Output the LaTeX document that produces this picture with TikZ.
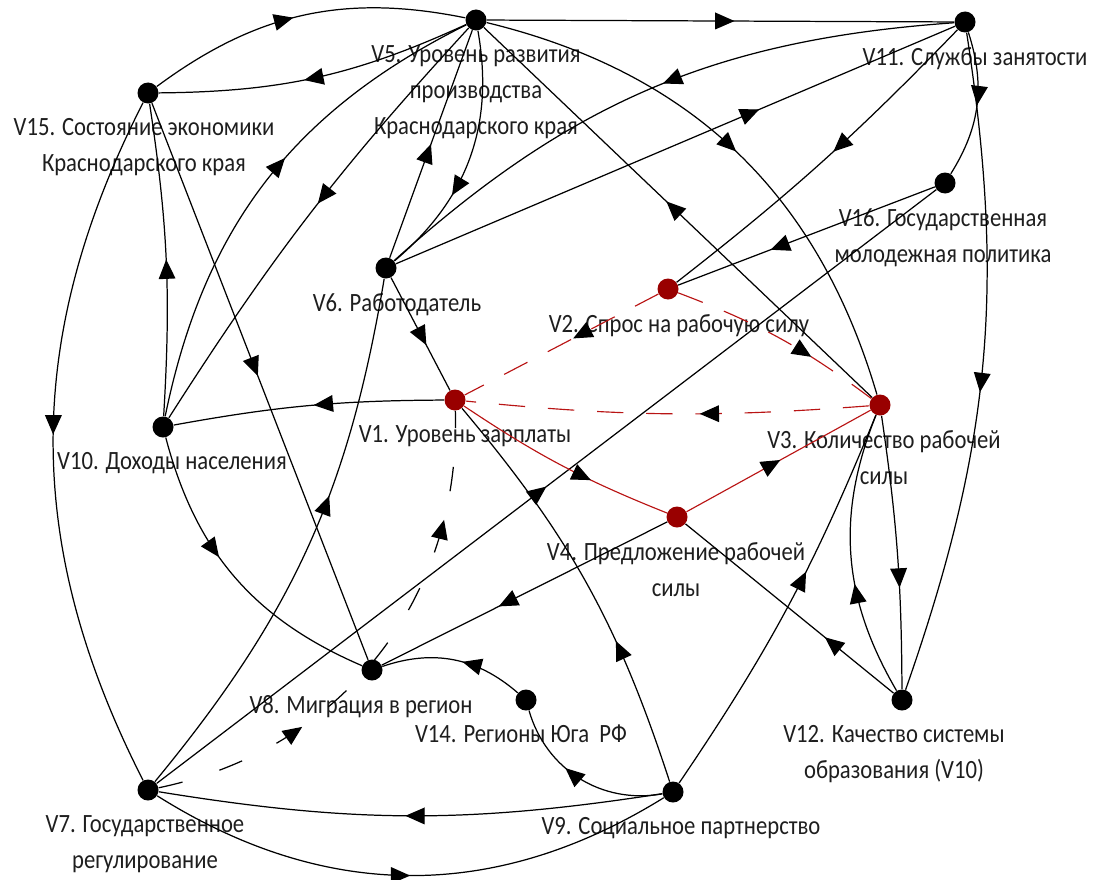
\documentclass[tikz,border=0pt]{standalone}
\usepackage{fontspec}
\newfontfamily\lblfont{Carlito}[FakeStretch=0.86]
\usetikzlibrary{positioning,arrows.meta,decorations.markings}
\definecolor{dotred}{RGB}{153,0,0}
\definecolor{lnred}{RGB}{185,20,20}
\definecolor{txtgray}{RGB}{30,30,30}
\begin{document}
\begin{tikzpicture}[
    dot/.style={circle,fill=black,inner sep=0pt,minimum size=0.42cm},
    reddot/.style={dot,fill=dotred},
    lbl/.style={align=center,inner sep=0pt,text=txtgray,font=\lblfont\fontsize{15}{20.5}\selectfont},
    edge/.style={draw=black,line width=0.7pt},
    redge/.style={draw=lnred,line width=0.65pt},
    rdash/.style={redge,dash pattern=on 15pt off 13pt},
    kdash/.style={edge,dash pattern=on 14pt off 22pt},
    midarrow/.style={postaction={decorate,decoration={markings,
        mark=at position #1 with {\arrow[black,solid]{Triangle[length=11pt,width=9.5pt]}}}}},
    twoarrows/.style 2 args={postaction={decorate,decoration={markings,
        mark=at position #1 with {\arrow[black,solid]{Triangle[length=11pt,width=9.5pt]}},
        mark=at position #2 with {\arrow[black,solid]{Triangle[length=11pt,width=9.5pt]}}}}}
]
    % Picture size
    \useasboundingbox (0,0) rectangle (21.86,-17.58);

    % Factors
    \node[dot] (v5) at (9.52,-0.40) {};
    \node[dot] (v11) at (19.30,-0.44) {};
    \node[dot] (v15) at (2.96,-1.86) {};
    \node[dot] (v16) at (18.90,-3.66) {};
    \node[dot] (v6) at (7.72,-5.36) {};
    \node[reddot] (v2) at (13.36,-5.78) {};
    \node[reddot] (v1) at (9.10,-8.00) {};
    \node[reddot] (v3) at (17.60,-8.10) {};
    \node[dot] (v10) at (3.26,-8.54) {};
    \node[reddot] (v4) at (13.54,-10.34) {};
    \node[dot] (v8) at (7.44,-13.40) {};
    \node[dot] (v14) at (10.52,-14.00) {};
    \node[dot] (v12) at (18.04,-14.00) {};
    \node[dot] (v7) at (2.96,-15.80) {};
    \node[dot] (v9) at (13.46,-15.84) {};

    % Labels under the factors
    \node[lbl, below=0.28cm of v5] (v5t) {V5. Уровень развития\\производства\\Краснодарского края};
    \node[lbl, below=0.28cm of v11, xshift=0.2cm] (v11t) {V11. Службы занятости};
    \node[lbl, below=0.28cm of v15, xshift=-0.08cm] (v15t) {V15. Состояние экономики\\Краснодарского края};
    \node[lbl, below=0.28cm of v16, xshift=-0.04cm] (v16t) {V16. Государственная\\молодежная политика};
    \node[lbl, below=0.28cm of v6, xshift=0.22cm] (v6t) {V6. Работодатель};
    \node[lbl, below=0.28cm of v2, xshift=0.22cm] (v2t) {V2. Спрос на рабочую силу};
    \node[lbl, below=0.28cm of v1, xshift=0.2cm] (v1t) {V1. Уровень зарплаты};
    \node[lbl, below=0.28cm of v3, xshift=0.08cm] (v3t) {V3. Количество рабочей\\силы};
    \node[lbl, below=0.28cm of v10, xshift=0.18cm] (v10t) {V10. Доходы населения};
    \node[lbl, below=0.28cm of v4, xshift=-0.02cm] (v4t) {V4. Предложение рабочей\\силы};
    \node[lbl, below=0.28cm of v8, xshift=-0.22cm] (v8t) {V8. Миграция в регион};
    \node[lbl, below=0.28cm of v14, xshift=-0.1cm] (v14t) {V14. Регионы Юга\ \ РФ};
    \node[lbl, below=0.28cm of v12, xshift=-0.16cm] (v12t) {V12. Качество системы\\образования (V10)};
    \node[lbl, below=0.28cm of v7, xshift=-0.06cm] (v7t) {V7. Государственное\\регулирование};
    \node[lbl, below=0.28cm of v9, xshift=0.16cm] (v9t) {V9. Социальное партнерство};

    % Links around V5 and V11
    \draw[edge, midarrow=0.53] (v5) -- (v11);
    \draw[edge, midarrow=0.47] (v15) to[bend left=24] (v5);
    \draw[edge, midarrow=0.54] (v5) to[bend left=12] (v15);
    \draw[edge, midarrow=0.56] (v10) to[bend left=26] (v5);
    \draw[edge, midarrow=0.47] (v5) to[bend right=5] (v10);
    \draw[edge, midarrow=0.5] (v6) -- (v5);
    \draw[edge, midarrow=0.66] (v5) to[bend left=30] (v6);
    \draw[edge, midarrow=0.5] (v5) to[bend left=30] (v3);
    \draw[edge, midarrow=0.53] (v3) -- (v5);
    \draw[edge, midarrow=0.48] (v11) to[bend right=19] (v6);
    \draw[edge, midarrow=0.65] (v6) -- (v11);
    \draw[edge, midarrow=0.5] (v11) to[bend left=25] (v16);
    \draw[edge, midarrow=0.54] (v11) to[bend left=14] (v12);
    \draw[edge, midarrow=0.46] (v11) to[bend left=4] (v2);
    \draw[edge, midarrow=0.64] (v16) -- (v2);

    % Left side
    \draw[edge, midarrow=0.5] (v10) to[bend right=6] (v15);
    \draw[edge, midarrow=0.49] (v15) -- (v8);
    \draw[edge, midarrow=0.49] (v15) to[bend right=27] (v7);
    \draw[edge, midarrow=0.48] (v1) to[bend right=5] (v10);
    \draw[edge, midarrow=0.6] (v6) -- (v1);
    \draw[edge, midarrow=0.42] (v10) to[bend right=26] (v8);
    \draw[edge, midarrow=0.6] (v7) to[bend right=15] (v6);
    \draw[edge, midarrow=0.5] (v7) -- (v16);
    \draw[kdash, twoarrows={0.3}{0.79}] (v7) to[bend right=40] (v1);

    % Lower part
    \draw[edge, midarrow=0.4] (v12) to[bend left=26] (v3);
    \draw[edge, midarrow=0.63] (v3) to[bend left=4] (v12);
    \draw[edge, midarrow=0.33] (v12) -- (v4);
    \draw[edge, midarrow=0.59] (v9) to[bend right=6] (v3);
    \draw[edge, midarrow=0.59] (v4) -- (v8);
    \draw[edge, midarrow=0.44] (v14) to[bend right=30] (v8);
    \draw[edge, midarrow=0.6] (v9) to[bend left=42] (v14);
    \draw[edge, midarrow=0.35] (v9) to[bend right=11] (v1);
    \draw[edge, midarrow=0.51] (v9) to[bend left=9] (v7);
    \draw[edge, midarrow=0.5] (v7) to[bend right=32] (v9);

    % Labour market core (red)
    \draw[redge, midarrow=0.64] (v1) to[bend right=6] (v4);
    \draw[redge, midarrow=0.51] (v4) -- (v3);
    \draw[rdash, midarrow=0.42] (v3) to[bend left=5] (v1);
    \draw[rdash, midarrow=0.44] (v2) -- (v1);
    \draw[rdash, midarrow=0.67] (v2) to[bend left=8] (v3);

\end{tikzpicture}
\end{document}
